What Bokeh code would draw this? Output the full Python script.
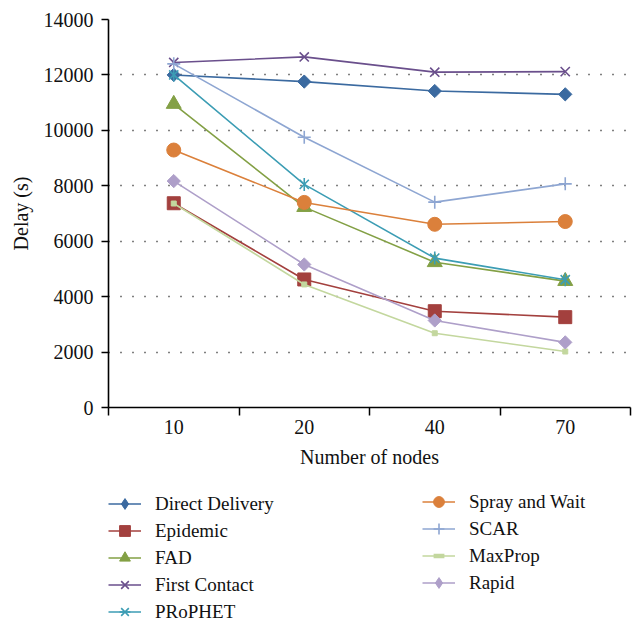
import numpy as np
from bokeh.plotting import figure
from bokeh.layouts import column
from bokeh.models import FixedTicker, Range1d, Legend, LegendItem
from bokeh.embed import file_html
from bokeh.resources import INLINE

nodes = ["10", "20", "40", "70"]
direct_delivery = [12000, 11760, 11420, 11300]
epidemic = [7370, 4620, 3475, 3260]
fad = [10950, 7230, 5240, 4560]
first_contact = [12450, 12650, 12100, 12120]
prophet = [12000, 8050, 5390, 4610]
spray_and_wait = [9290, 7400, 6610, 6710]
scar = [12400, 9750, 7410, 8070]
maxprop = [7360, 4440, 2680, 2020]
rapid = [8170, 5160, 3140, 2350]
y_ticks = [0, 2000, 4000, 6000, 8000, 10000, 12000, 14000]

FONT = "Liberation Serif"

p = figure(width=638, height=488, output_backend="svg", toolbar_location=None,
           x_range=Range1d(0, len(nodes)), y_range=Range1d(0, 14000),
           min_border_left=108, min_border_right=8, min_border_top=19,
           min_border_bottom=81)
p.outline_line_color = None

xpos = np.arange(len(nodes)) + 0.5

p.xaxis.ticker = FixedTicker(ticks=list(xpos), minor_ticks=list(range(len(nodes) + 1)))
p.xaxis.major_label_overrides = {float(x): n for x, n in zip(xpos, nodes)}
p.xaxis.major_tick_out = 0
p.xaxis.major_tick_in = 0
p.xaxis.minor_tick_out = 8
p.xaxis.minor_tick_in = 0
p.xaxis.minor_tick_line_width = 1.5
p.xaxis.minor_tick_line_color = "black"
p.xaxis.axis_label = "Number of nodes"
p.xaxis.major_label_standoff = 4

p.yaxis.ticker = FixedTicker(ticks=y_ticks)
p.yaxis.major_tick_out = 7
p.yaxis.major_tick_in = 0
p.yaxis.minor_tick_out = 0
p.yaxis.minor_tick_in = 0
p.yaxis.axis_label = "Delay (s)"
p.yaxis.major_label_standoff = 8
p.yaxis.axis_label_standoff = 9

for ax in (p.xaxis, p.yaxis):
    ax.axis_line_color = "black"
    ax.axis_line_width = 1.6
    ax.major_tick_line_color = "black"
    ax.major_tick_line_width = 1.5
    ax.major_label_text_font = FONT
    ax.major_label_text_font_size = "20px"
    ax.major_label_text_color = "#111111"
    ax.axis_label_text_font = FONT
    ax.axis_label_text_font_size = "20px"
    ax.axis_label_text_font_style = "normal"
    ax.axis_label_text_color = "#111111"
p.xaxis.axis_label_standoff = 9

p.xgrid.grid_line_color = None
p.ygrid.grid_line_color = "black"
p.ygrid.grid_line_dash = "1 11"
p.ygrid.grid_line_width = 1.5

series = [
    ("Direct Delivery", direct_delivery, "#3b6aa0", "diamond_rot", 13, "diamond"),
    ("Epidemic", epidemic, "#a3403e", "square", 13, "square"),
    ("FAD", fad, "#83a045", "triangle", 15, "triangle"),
    ("First Contact", first_contact, "#6a4f8c", "x", 13, "x"),
    ("PRoPHET", prophet, "#3c9db4", "asterisk6", 13, "asterisk6"),
    ("Spray and Wait", spray_and_wait, "#db803b", "circle", 14, "circle"),
    ("SCAR", scar, "#8ea6d2", "cross", 13, "cross"),
    ("MaxProp", maxprop, "#c3d79e", "square", 5, "bar"),
    ("Rapid", rapid, "#ae9fc9", "diamond_rot", 13, "diamond"),
]


def draw(fig, vals, color, marker, size):
    rs = [fig.line(xpos, vals, line_color=color, line_width=1.6)]
    if marker == "diamond_rot":
        rs.append(fig.scatter(xpos, vals, marker="square", angle=np.pi / 4, size=size * 0.72,
                              fill_color=color, line_color=color))
    elif marker == "asterisk6":
        rs.append(fig.scatter(xpos, vals, marker="x", size=size, line_color=color, line_width=1.6))
        rs.append(fig.scatter(xpos, vals, marker="dash", angle=np.pi / 2, size=size,
                              line_color=color, line_width=1.6))
    elif marker in ("x", "cross"):
        rs.append(fig.scatter(xpos, vals, marker=marker, size=size, line_color=color, line_width=1.6))
    elif marker == "bar":
        rs.append(fig.scatter(xpos, vals, marker="dash", size=size, line_color=color,
                              line_width=4.5))
    else:
        rs.append(fig.scatter(xpos, vals, marker=marker, size=size,
                              fill_color=color, line_color=color))
    return rs


for name, vals, color, marker, size, _ in series:
    draw(p, vals, color, marker, size)

# legend panel: a second figure whose frame holds the two legend columns
q = figure(width=638, height=134, output_backend="svg", toolbar_location=None,
           x_range=Range1d(100, 101), y_range=Range1d(100, 101),
           x_axis_location=None, y_axis_location=None,
           min_border_left=0, min_border_right=0, min_border_top=0, min_border_bottom=0)
q.outline_line_color = None
q.grid.grid_line_color = None

items = []
for name, vals, color, _, size, lmarker in series:
    items.append(LegendItem(label=name, renderers=draw(q, vals, color, lmarker, size)))


def make_legend(its, loc):
    lg = Legend(items=its, location=loc, orientation="vertical")
    lg.label_text_font = FONT
    lg.label_text_font_size = "19px"
    lg.label_text_color = "#111111"
    lg.glyph_width = 33
    lg.glyph_height = 27
    lg.label_height = 20
    lg.spacing = 0
    lg.label_standoff = 14
    lg.padding = 0
    lg.margin = 0
    lg.border_line_color = None
    lg.background_fill_alpha = 0
    return lg


q.add_layout(make_legend(items[:5], (0, -3)), "center")
q.add_layout(make_legend(items[5:], (314, 26)), "center")

layout = column(p, q, spacing=0)
open("out.html", "w").write(file_html(layout, INLINE))
